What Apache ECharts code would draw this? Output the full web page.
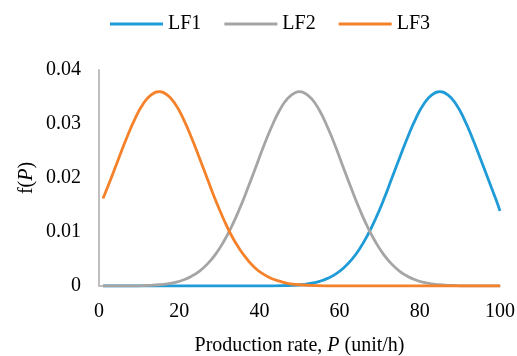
<!DOCTYPE html>
<html>
<head>
<meta charset="utf-8">
<script src="https://cdn.jsdelivr.net/npm/echarts@6/dist/echarts.min.js"></script>
<style>
  html, body { margin: 0; padding: 0; background: #fff; }
  #chart { width: 517px; height: 356px; }
</style>
</head>
<body>
<div id="chart"></div>
<script>
// production rate P (unit/h), sampled every 2 units (plus the LF2 peak at 50)
const rates = [1, 3, 5, 7, 9, 11, 13, 15, 17, 19, 21, 23, 25, 27, 29, 31, 33, 35,
  37, 39, 41, 43, 45, 47, 49, 50, 51, 53, 55, 57, 59, 61, 63, 65, 67, 69, 71, 73,
  75, 77, 79, 81, 83, 85, 87, 89, 91, 93, 95, 97, 99, 100];

const lf1 = [0, 0, 0, 0, 0, 0, 0, 0, 0, 0, 0, 0, 0, 0, 0, 0, 0, 0, 0, 0, 0, 0,
  0.00005, 0.00009, 0.00017, 0.00023, 0.0003, 0.00052, 0.00087, 0.00141, 0.0022,
  0.00333, 0.00487, 0.00689, 0.00944, 0.0125, 0.016, 0.0199, 0.0238, 0.0276,
  0.031, 0.0337, 0.0354, 0.036, 0.0354, 0.0337, 0.031, 0.0276, 0.0238,
  0.0199, 0.016, 0.0139];

const lf2 = [0, 0, 0, 0, 0, 0.00007, 0.00013, 0.00023, 0.0004, 0.00068,
  0.00112, 0.00177, 0.00272, 0.00405, 0.00582, 0.0081, 0.0109, 0.0142, 0.0179,
  0.0218, 0.0258, 0.0294, 0.0325, 0.0347, 0.03585, 0.036, 0.03585, 0.0347, 0.0325,
  0.0294, 0.0258, 0.0218, 0.0179, 0.0142, 0.0109, 0.0081, 0.00582, 0.00405,
  0.00272, 0.00177, 0.00112, 0.00068, 0.0004, 0.00023, 0.00013, 0.00007,
  0, 0, 0, 0, 0, 0];

const lf3 = [0.0162, 0.0199, 0.0238, 0.0276, 0.031, 0.0337, 0.0354, 0.036,
  0.0354, 0.0337, 0.031, 0.0276, 0.0238, 0.0199, 0.016, 0.0125, 0.0094,
  0.0069, 0.0049, 0.0033, 0.0022, 0.0014, 0.0009, 0.0005, 0.0003, 0.00025,
  0.0002, 0.0001, 0.00005, 0, 0, 0, 0, 0, 0, 0, 0, 0, 0, 0, 0, 0, 0, 0, 0, 0,
  0, 0, 0, 0, 0, 0];

const seriesNames = ['LF1', 'LF2', 'LF3'];
const seriesColors = ['#1f9bd7', '#a5a5a5', '#f5822a'];

const font = 'Liberation Serif';
const chart = echarts.init(document.getElementById('chart'));

const toPairs = (ys) => rates.map((p, i) => [p, ys[i]]);

chart.setOption({
  animation: false,
  textStyle: { fontFamily: font, color: '#000' },
  legend: {
    top: 9,
    left: 105,
    icon: 'rect',
    itemWidth: 53,
    itemHeight: 3,
    itemGap: 23,
    textStyle: { fontFamily: font, fontSize: 20, color: '#000' },
    data: seriesNames
  },
  grid: { left: 99, right: 17, top: 70, bottom: 70, outerBoundsMode: 'none' },
  xAxis: {
    type: 'value',
    min: 0,
    max: 100,
    interval: 20,
    name: '{n|Production rate, }{i|P}{n| (unit/h)}',
    nameLocation: 'middle',
    nameGap: 50,
    nameTextStyle: {
      rich: {
        n: { fontFamily: font, fontSize: 20, color: '#000' },
        i: { fontFamily: font, fontSize: 20, color: '#000', fontStyle: 'italic' }
      }
    },
    axisLine: { show: true, lineStyle: { color: '#bfbfbf', width: 2 } },
    axisTick: { show: false },
    splitLine: { show: false },
    axisLabel: { fontFamily: font, fontSize: 20, color: '#000', margin: 16 }
  },
  yAxis: {
    type: 'value',
    min: 0,
    max: 0.04,
    interval: 0.01,
    name: '{n|f(}{i|P}{n|)}',
    nameLocation: 'middle',
    nameGap: 62,
    nameMoveOverlap: false,
    nameTextStyle: {
      rich: {
        n: { fontFamily: font, fontSize: 20, color: '#000' },
        i: { fontFamily: font, fontSize: 20, color: '#000', fontStyle: 'italic' }
      }
    },
    axisLine: { show: true, lineStyle: { color: '#bfbfbf', width: 2 } },
    axisTick: { show: false },
    splitLine: { show: false },
    axisLabel: { fontFamily: font, fontSize: 20, color: '#000', margin: 18 }
  },
  series: [lf1, lf2, lf3].map((ys, k) => ({
    name: seriesNames[k],
    type: 'line',
    data: toPairs(ys),
    smooth: true,
    symbol: 'none',
    color: seriesColors[k],
    lineStyle: { width: 2.8, color: seriesColors[k] }
  }))
});
</script>
</body>
</html>
